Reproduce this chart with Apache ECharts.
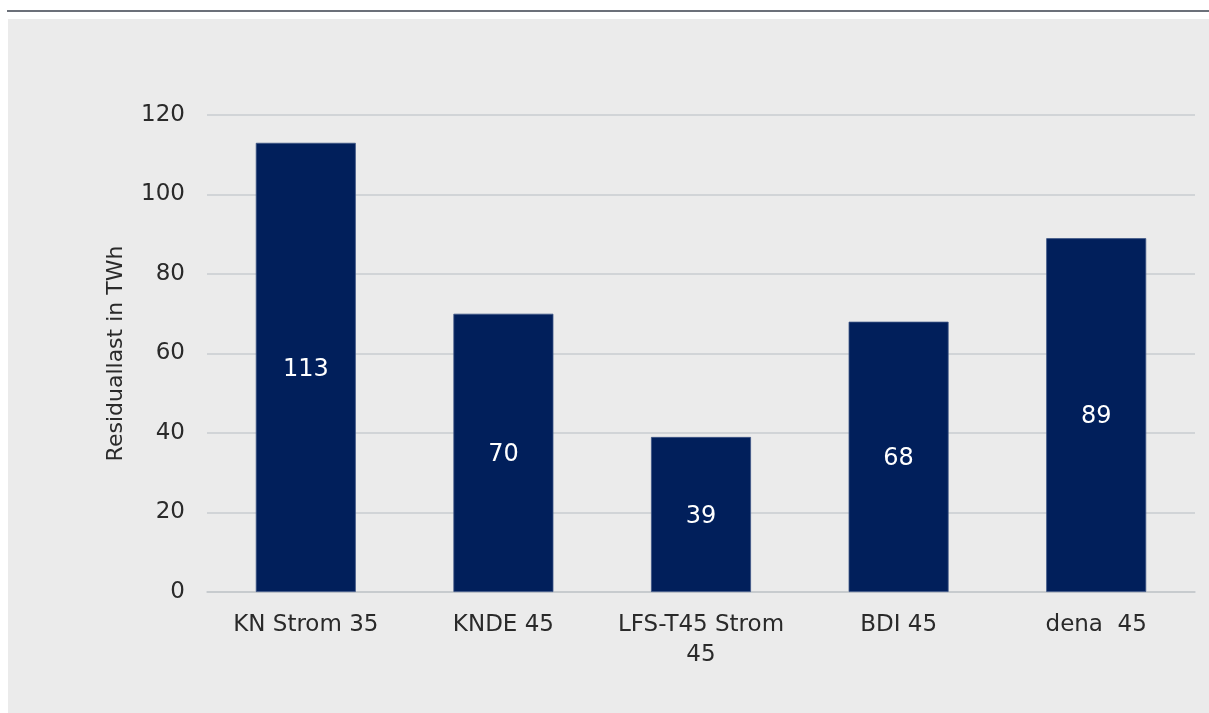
<!DOCTYPE html>
<html>
<head>
<meta charset="utf-8">
<style>
  html, body { margin: 0; padding: 0; background: #ffffff; }
  #chart { width: 1209px; height: 713px; }
</style>
<script src="https://cdn.jsdelivr.net/npm/echarts@6/dist/echarts.min.js"></script>
</head>
<body>
<div id="chart"></div>
<script>
// Residual load per scenario (TWh)
const categories = ['KN Strom 35', 'KNDE 45', 'LFS-T45 Strom\n45', 'BDI 45', 'dena  45'];
const residualLoad = [113, 70, 39, 68, 89];
const axisTitle = 'Residuallast in TWh';

const textFont = '"DejaVu Sans", "Liberation Sans", Arial, sans-serif';

const chart = echarts.init(document.getElementById('chart'), null, { renderer: 'canvas' });

chart.setOption({
  animation: false,
  backgroundColor: '#ffffff',
  graphic: [
    {
      type: 'rect',
      silent: true,
      z: -10,
      shape: { x: 8, y: 19, width: 1201, height: 694 },
      style: { fill: '#ebebeb' }
    },
    {
      type: 'line',
      silent: true,
      z: -10,
      shape: { x1: 7, y1: 11, x2: 1209, y2: 11 },
      style: { stroke: '#6b7079', lineWidth: 2 }
    }
  ],
  grid: {
    left: 207,
    right: 14,
    top: 115,
    bottom: 121,
    containLabel: false
  },
  xAxis: {
    type: 'category',
    data: categories,
    axisTick: { show: false },
    axisLine: { show: true, lineStyle: { color: '#c3c7cc', width: 1.5 } },
    axisLabel: {
      color: '#2a2a2a',
      fontFamily: textFont,
      fontSize: 23,
      lineHeight: 30,
      margin: 18,
      interval: 0
    }
  },
  yAxis: {
    type: 'value',
    min: 0,
    max: 120,
    interval: 20,
    name: axisTitle,
    nameLocation: 'middle',
    nameRotate: 90,
    nameGap: 80,
    nameTextStyle: {
      color: '#2a2a2a',
      fontFamily: textFont,
      fontSize: 22
    },
    axisLine: { show: false },
    axisTick: { show: false },
    axisLabel: {
      color: '#2a2a2a',
      fontFamily: textFont,
      fontSize: 23,
      margin: 22,
      padding: [3, 0, 0, 0]
    },
    splitLine: { lineStyle: { color: '#c9cdd1', width: 1.5 } }
  },
  series: [
    {
      type: 'bar',
      data: residualLoad,
      barWidth: 100,
      itemStyle: {
        color: '#011f5b',
        borderColor: '#3d5585',
        borderWidth: 0.8
      },
      label: {
        show: true,
        position: 'inside',
        offset: [0, 2],
        color: '#ffffff',
        fontFamily: textFont,
        fontSize: 24
      }
    }
  ]
});
</script>
</body>
</html>
